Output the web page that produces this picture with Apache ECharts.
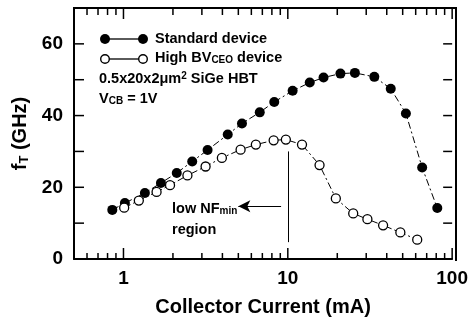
<!DOCTYPE html>
<html>
<head>
<meta charset="utf-8">
<script src="https://cdn.jsdelivr.net/npm/echarts@6/dist/echarts.min.js"></script>
<style>
html,body{margin:0;padding:0;background:#fff;}
#chart{width:471px;height:322px;}
</style>
</head>
<body>
<div id="chart"></div>
<script>
// Collector current (mA) and fT (GHz)
const stdCurrent = [0.855, 1.02, 1.35, 1.69, 2.11, 2.62, 3.25, 4.31, 5.26, 6.75, 8.27, 10.7, 13.6, 16.5, 20.9, 25.6, 33.6, 42.3, 52.3, 65.7, 81.2];
const stdFt      = [13.7, 15.6, 18.4, 21.2, 24.0, 27.2, 30.4, 34.7, 37.8, 40.9, 43.8, 46.9, 49.2, 50.6, 51.7, 51.9, 50.8, 47.5, 40.6, 25.5, 14.2];
const hbvCurrent = [1.01, 1.24, 1.59, 1.92, 2.45, 3.16, 3.97, 5.16, 6.39, 8.2, 9.73, 12.2, 15.6, 19.6, 25.0, 30.5, 38.0, 48.4, 61.3];
const hbvFt      = [14.3, 16.3, 18.7, 20.6, 23.3, 25.8, 28.2, 30.5, 31.9, 33.1, 33.3, 31.9, 26.2, 16.9, 12.7, 11.1, 9.4, 7.4, 5.4];

const xMajorTicks = [1, 10, 100];
const xMinorTicks = [0.6, 0.7, 0.8, 0.9, 2, 3, 4, 5, 6, 7, 8, 9, 20, 30, 40, 50, 60, 70, 80, 90];
const yTicks = [10, 20, 30, 40, 50, 60];
const yTickLabels = [0, 20, 40, 60];

const nfLine = [[10, 30], [10, 4.7]];      // vertical marker at 10 mA
const nfArrow = [[9.1, 14.7], [5.0, 14.7]]; // arrow toward low current

const FONT = '"Liberation Sans", Arial, Helvetica, sans-serif';
const xMin = 0.5, xMax = 100, yMin = 0, yMax = 70;
const lg = v => Math.log10(v);

// tick marks: position [x, y] plus tick length and direction (0=up,1=down,2=right,3=left)
const tickPos = [], tickLen = [], tickDir = [];
function addTick(x, y, len, dir) { tickPos.push([x, y]); tickLen.push(len); tickDir.push(dir); }
xMajorTicks.forEach(v => { addTick(v, yMin, 11, 0); addTick(v, yMax, 11, 1); });
xMinorTicks.forEach(v => { addTick(v, yMin, 6, 0); addTick(v, yMax, 7, 1); });
yTicks.forEach(v => { addTick(xMin, v, 10, 2); addTick(xMax, v, 9, 3); });

const chart = echarts.init(document.getElementById('chart'), null, {renderer: 'canvas'});
chart.setOption({
  animation: false,
  backgroundColor: '#fff',
  grid: {left: 74, right: 15, top: 8, bottom: 62},
  xAxis: [
    { type: 'log', logBase: 10, min: xMin, max: xMax, gridIndex: 0, show: false },
    { type: 'value', gridIndex: 0, position: 'bottom', min: lg(xMin), max: lg(xMax),
      axisLine: {show: true, onZero: false, lineStyle: {color: '#000', width: 2}},
      axisTick: {show: false}, splitLine: {show: false},
      axisLabel: {show: true, customValues: xMajorTicks.map(lg), formatter: v => String(Math.round(Math.pow(10, v))),
        color: '#000', fontFamily: FONT, fontWeight: 'bold', fontSize: 19, margin: 10},
      name: 'Collector Current (mA)', nameLocation: 'middle', nameGap: 38,
      nameTextStyle: {color: '#000', fontFamily: FONT, fontWeight: 'bold', fontSize: 20}
    }
  ],
  yAxis: [
    { type: 'value', min: yMin, max: yMax, interval: 10, position: 'left',
      axisLine: {show: true, onZero: false, lineStyle: {color: '#000', width: 2}},
      axisTick: {show: false}, splitLine: {show: false},
      axisLabel: {color: '#000', fontFamily: FONT, fontWeight: 'bold', fontSize: 19, margin: 11,
        formatter: v => (yTickLabels.indexOf(v) >= 0 ? String(v) : '')},
      name: 'f{sub|T} (GHz)', nameLocation: 'middle', nameGap: 39, nameRotate: 90,
      nameTextStyle: {color: '#000', fontFamily: FONT, fontWeight: 'bold', fontSize: 20,
        rich: {sub: {fontFamily: FONT, fontWeight: 'bold', fontSize: 13, verticalAlign: 'bottom', padding: [8, 0, 0, 0]}}}
    }
  ],
  series: [
    {
      name: 'ticks', type: 'custom', coordinateSystem: 'cartesian2d', xAxisIndex: 0, yAxisIndex: 0,
      clip: false, silent: true, z: 5,
      data: tickPos,
      renderItem: function (params, api) {
        const i = params.dataIndex;
        const t = tickPos[i];
        const p = api.coord([t[0], t[1]]);
        const len = tickLen[i], d = tickDir[i];
        let x2 = p[0], y2 = p[1];
        if (d === 0) y2 -= len; else if (d === 1) y2 += len; else if (d === 2) x2 += len; else x2 -= len;
        return {type: 'line', shape: {x1: p[0], y1: p[1], x2: x2, y2: y2}, style: {stroke: '#000', lineWidth: 1.5}};
      }
    },
    {
      name: 'Standard device', type: 'line', xAxisIndex: 0, yAxisIndex: 0,
      data: stdCurrent.map((c, i) => [c, stdFt[i]]),
      symbol: 'circle', symbolSize: 10,
      itemStyle: {color: '#000', borderColor: '#000', borderWidth: 0},
      lineStyle: {color: '#000', width: 1, type: [7, 3, 2, 3]},
      z: 3
    },
    {
      name: 'High BVCEO device', type: 'line', xAxisIndex: 0, yAxisIndex: 0,
      data: hbvCurrent.map((c, i) => [c, hbvFt[i]]),
      symbol: 'circle', symbolSize: 9,
      itemStyle: {color: '#fff', borderColor: '#000', borderWidth: 1.3},
      lineStyle: {color: '#000', width: 1, type: [7, 3, 2, 3]},
      z: 3,
      markLine: {
        silent: true, animation: false,
        label: {show: false},
        data: [
          [{coord: nfLine[0], symbol: 'none'}, {coord: nfLine[1], symbol: 'none'}],
          [{coord: nfArrow[0], symbol: 'none'}, {coord: nfArrow[1], symbol: 'arrow', symbolSize: [9, 12]}]
        ],
        lineStyle: {color: '#000', width: 1, type: 'solid'}
      }
    }
  ],
  graphic: [
    {type: 'line', shape: {x1: 73, y1: 8, x2: 457, y2: 8}, style: {stroke: '#000', lineWidth: 2}},
    {type: 'line', shape: {x1: 456, y1: 7, x2: 456, y2: 261}, style: {stroke: '#000', lineWidth: 2}},

    {type: 'line', shape: {x1: 108, y1: 39, x2: 140, y2: 39}, style: {stroke: '#000', lineWidth: 1.3}},
    {type: 'circle', shape: {cx: 105, cy: 39, r: 5}, style: {fill: '#000'}},
    {type: 'circle', shape: {cx: 143, cy: 39, r: 5}, style: {fill: '#000'}},
    {type: 'text', left: 155, top: 31, style: {text: 'Standard device', fill: '#000', font: 'bold 14.5px ' + FONT}},

    {type: 'line', shape: {x1: 109, y1: 59, x2: 139, y2: 59}, style: {stroke: '#000', lineWidth: 1.3}},
    {type: 'circle', shape: {cx: 105, cy: 59, r: 4.3}, style: {fill: '#fff', stroke: '#000', lineWidth: 1.4}},
    {type: 'circle', shape: {cx: 143, cy: 59, r: 4.3}, style: {fill: '#fff', stroke: '#000', lineWidth: 1.4}},
    {type: 'text', left: 155, top: 50, style: {text: 'High BV{sub|CEO} device', fill: '#000', font: 'bold 14.5px ' + FONT,
      rich: {sub: {fontSize: 10, fontWeight: 'bold', fontFamily: FONT, verticalAlign: 'bottom', padding: [6, 0, 0, 0]}}}},

    {type: 'text', left: 99, top: 71, style: {text: '0.5x20x2\u03bcm{sup|2} SiGe HBT', fill: '#000', font: 'bold 14.5px ' + FONT,
      rich: {sup: {fontSize: 10, fontWeight: 'bold', fontFamily: FONT, verticalAlign: 'top', padding: [0, 0, 6, 0]}}}},
    {type: 'text', left: 99, top: 91, style: {text: 'V{sub|CB} = 1V', fill: '#000', font: 'bold 14.5px ' + FONT,
      rich: {sub: {fontSize: 10, fontWeight: 'bold', fontFamily: FONT, verticalAlign: 'bottom', padding: [6, 0, 0, 0]}}}},

    {type: 'text', left: 172, top: 201, style: {text: 'low NF{sub|min}', fill: '#000', font: 'bold 14.5px ' + FONT,
      rich: {sub: {fontSize: 10, fontWeight: 'bold', fontFamily: FONT, verticalAlign: 'bottom', padding: [6, 0, 0, 0]}}}},
    {type: 'text', left: 172, top: 222, style: {text: 'region', fill: '#000', font: 'bold 14.5px ' + FONT}}
  ]
});
</script>
</body>
</html>
